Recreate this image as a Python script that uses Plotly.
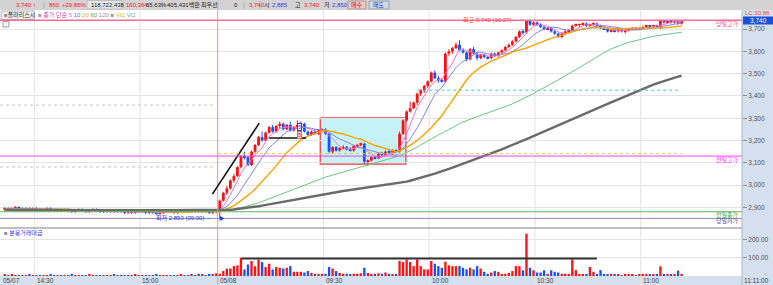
import plotly.graph_objects as go
import pandas as pd

# ---------------- data ----------------
prev_times = [f"14:{m:02d}" for m in range(21, 60)] + [f"15:{m:02d}" for m in range(0, 21)] + ["15:30"]
today_times = [f"{9 + m // 60:02d}:{m % 60:02d}" for m in range(0, 132)]

# earlier closes of 05/07 (13:22-14:20), off-screen, only feed the moving averages
history_close = [2885,2890,2885,2890,2885,2880,2885,2890,2885,2890,
                 2885,2880,2885,2890,2885,2880,2885,2890,2895,2890,
                 2885,2890,2885,2880,2885,2890,2885,2880,2885,2890,
                 2885,2890,2895,2890,2885,2890,2885,2880,2885,2890,
                 2885,2890,2885,2890,2895,2890,2885,2890,2885,2890,
                 2895,2890,2885,2890,2895,2890,2885,2890,2895]

prev_open = [2890,2895,2890,2895,2900,2895,2890,2895,2890,2895,
             2890,2885,2890,2895,2890,2885,2890,2885,2890,2885,
             2880,2885,2890,2885,2880,2885,2890,2885,2880,2885,
             2880,2885,2880,2885,2880,2875,2880,2875,2880,2885,
             2880,2875,2880,2875,2870,2875,2880,2885,2880,2875,
             2880,2885,2880,2885,2880,2885,2880,2885,2880,2875,
             2880]
prev_high = [2900,2900,2900,2905,2905,2900,2900,2900,2900,2900,
             2895,2895,2900,2900,2895,2895,2895,2895,2895,2890,
             2890,2895,2895,2890,2890,2895,2895,2890,2890,2890,
             2890,2890,2890,2890,2885,2885,2885,2885,2890,2890,
             2885,2885,2885,2880,2880,2885,2890,2890,2885,2885,
             2890,2890,2890,2890,2890,2890,2890,2890,2885,2885,
             2885]
prev_low = [2885,2885,2885,2890,2890,2885,2885,2885,2885,2885,
            2880,2880,2885,2885,2880,2880,2880,2880,2880,2875,
            2875,2880,2880,2875,2875,2880,2880,2875,2875,2875,
            2875,2875,2875,2875,2870,2870,2870,2870,2875,2875,
            2870,2870,2870,2865,2865,2870,2875,2875,2870,2870,
            2875,2875,2875,2875,2875,2875,2875,2875,2870,2870,
            2875]
prev_close = [2895,2890,2895,2900,2895,2890,2895,2890,2895,2890,
              2885,2890,2895,2890,2885,2890,2885,2890,2885,2880,
              2885,2890,2885,2880,2885,2890,2885,2880,2885,2880,
              2885,2880,2885,2880,2875,2880,2875,2880,2885,2880,
              2875,2880,2875,2870,2875,2880,2885,2880,2875,2880,
              2885,2880,2885,2880,2885,2880,2885,2880,2875,2880,
              2880]
prev_value = [6,4,8,3,5,4,3,6,4,3, 5,3,4,6,3,4,5,3,4,6,
              3,4,5,3,6,4,3,5,4,3, 4,6,3,4,5,3,4,8,3,4,
              5,3,4,6,3,5,4,3,4,5, 8,4,5,6,4,12,6,5,8,10, 15]

today_open = [2885,2930,2965,2985,3020,3040,3080,3130,3125,3090,
              3150,3180,3215,3200,3235,3260,3240,3265,3275,3250,
              3270,3245,3260,3270,3275,3240,3225,3240,3230,3245,
              3250,3230,3150,3170,3155,3165,3170,3160,3155,3175,
              3180,3185,3105,3110,3125,3120,3140,3135,3150,3145,
              3155,3150,3230,3290,3330,3345,3370,3410,3425,3445,
              3465,3505,3480,3470,3465,3590,3600,3615,3630,3605,
              3595,3565,3610,3590,3570,3585,3575,3570,3590,3580,
              3595,3605,3620,3630,3645,3665,3690,3685,3740,3720,
              3730,3720,3710,3700,3705,3690,3680,3665,3680,3690,
              3695,3715,3720,3720,3725,3715,3720,3725,3715,3705,
              3700,3690,3695,3690,3700,3690,3695,3700,3705,3700,
              3705,3710,3715,3710,3715,3710,3740,3730,3735,3730,
              3740,3725]
today_high = [2935,2970,2995,3025,3050,3085,3135,3150,3130,3155,
              3185,3220,3240,3240,3265,3270,3270,3285,3280,3275,
              3285,3265,3290,3285,3280,3245,3245,3250,3250,3255,
              3255,3235,3175,3175,3170,3180,3175,3170,3180,3185,
              3190,3190,3115,3130,3130,3145,3150,3155,3160,3160,
              3160,3240,3295,3335,3375,3375,3415,3430,3450,3470,
              3510,3515,3490,3480,3595,3610,3620,3640,3650,3615,
              3600,3615,3620,3595,3590,3590,3580,3595,3595,3600,
              3610,3625,3635,3650,3670,3695,3700,3740,3740,3735,
              3735,3725,3715,3710,3710,3695,3685,3685,3695,3700,
              3720,3725,3725,3730,3730,3725,3730,3730,3720,3710,
              3705,3700,3700,3705,3705,3700,3705,3710,3710,3710,
              3715,3720,3720,3720,3720,3740,3740,3740,3740,3740,
              3740,3740]
today_low = [2850,2925,2955,2980,3010,3035,3075,3115,3085,3085,
             3145,3175,3195,3195,3230,3235,3235,3255,3245,3245,
             3240,3240,3255,3250,3235,3220,3220,3225,3225,3240,
             3225,3145,3140,3150,3150,3160,3155,3150,3150,3170,
             3175,3095,3085,3105,3115,3115,3130,3130,3140,3135,
             3145,3145,3225,3285,3325,3340,3360,3400,3415,3435,
             3460,3475,3460,3460,3460,3580,3590,3610,3600,3590,
             3555,3560,3585,3560,3565,3570,3565,3565,3575,3575,
             3590,3600,3615,3625,3640,3660,3675,3680,3715,3715,
             3715,3705,3695,3695,3685,3675,3660,3660,3675,3685,
             3690,3710,3710,3715,3710,3710,3715,3710,3700,3695,
             3685,3685,3685,3685,3685,3680,3690,3695,3695,3695,
             3700,3705,3705,3705,3705,3700,3725,3725,3725,3725,
             3720,3720]
today_close = [2930,2965,2985,3020,3040,3080,3130,3125,3090,3150,
               3180,3215,3200,3235,3260,3240,3265,3275,3250,3270,
               3245,3260,3270,3275,3240,3225,3240,3230,3245,3250,
               3230,3150,3170,3155,3165,3170,3160,3155,3175,3180,
               3185,3105,3110,3125,3120,3140,3135,3150,3145,3155,
               3150,3230,3290,3330,3345,3370,3410,3425,3445,3465,
               3505,3480,3470,3465,3590,3600,3615,3630,3605,3595,
               3565,3610,3590,3570,3585,3575,3570,3590,3580,3595,
               3605,3620,3630,3645,3665,3690,3685,3740,3720,3730,
               3720,3710,3700,3705,3690,3680,3665,3680,3690,3695,
               3715,3720,3720,3725,3715,3720,3725,3715,3705,3700,
               3690,3695,3690,3700,3690,3695,3700,3705,3700,3705,
               3710,3715,3710,3715,3710,3740,3730,3735,3730,3740,
               3725,3740]
today_value = [12,27,40,41,54,58,100,36,63,82,
               53,90,76,49,67,36,49,45,41,45,
               54,23,23,23,19,27,17,12,12,12,
               12,49,41,27,17,12,12,8,12,12,
               15,45,17,12,12,15,12,19,12,8,
               12,82,76,90,76,54,90,54,36,36,
               82,67,54,45,78,58,54,54,54,45,
               36,45,36,54,41,23,12,19,27,23,
               12,12,17,27,54,54,31,231,45,31,
               19,19,31,12,31,23,19,12,12,8,
               91,32,8,8,8,49,23,12,32,7,
               8,12,6,8,5,7,6,8,5,6,
               7,6,8,6,8,53,8,6,6,6,
               29,12]

ma_periods = [5, 10, 20, 60, 120]
ma_colors = ["#ff6ec7", "#8484ee", "#f5a300", "#6cc483", "#6a6a6a"]
ma_widths = [1, 1, 1.4, 1, 2.4]

levels = {"당일고가": 3740, "전일고가": 3130, "전일종가": 2880, "당일저가": 2850}
level_colors = {"당일고가": "#ff6f90", "전일고가": "#ff40ff", "전일종가": "#5cb85c", "당일저가": "#8c8cba"}
level_text_colors = {"당일고가": "#ff5080", "전일고가": "#ff30ff", "전일종가": "#40a040", "당일저가": "#505090"}
vi1_price, vi2_price = 3141, 3426
prev_vi = [3359, 3081]

header_items = [
    (14, "3,740", "#ff2020"), (31, "<b>↑</b>", "#ff2020"), (47, "860", "#ff2020"),
    (60, "+29.86%", "#ff2020"), (89, "118,722,438", "#202020"), (124, "160,364", "#ff2020"),
    (144, "65.63%", "#202020"), (165, "405,431백만", "#202020"), (199, "최우선", "#202020"),
    (232, "0", "#202020"), (247, "3,740", "#ff2020"), (262, "시", "#202020"),
    (270, "2,885", "#2040ff"), (293, "고", "#202020"), (302, "3,740", "#ff2020"),
    (322, "저", "#202020"), (330, "2,850", "#2040ff"),
]
xtick_labels = ["14:30", "15:00", "09:00", "09:30", "10:00", "10:30", "11:00"]

# ---------------- derived ----------------
times = prev_times + today_times
O = prev_open + today_open
H = prev_high + today_high
L = prev_low + today_low
C = prev_close + today_close
V = prev_value + today_value
n = len(times)
idx = list(range(n))
day_start = len(prev_times)

W, Hh = 773, 285
def py(p):
    return 1 - p / Hh
def px(p):
    return p / W

XR = [-1.35, 209.14]
FONT = "Liberation Sans, Noto Sans CJK KR"

up = [c >= o for o, c in zip(O, C)]
RED, BLUE = "#ff1010", "#1450ff"
cols = [RED if u else BLUE for u in up]

fig = go.Figure()

for flag, col in [(True, RED), (False, BLUE)]:
    xs, ys = [], []
    for i in idx:
        if up[i] == flag:
            xs += [i, i, None]
            ys += [L[i], H[i], None]
    fig.add_trace(go.Scatter(x=xs, y=ys, mode="lines", line=dict(color=col, width=1),
                             hoverinfo="skip", showlegend=False))
fig.add_trace(go.Bar(x=idx, base=[min(o, c) for o, c in zip(O, C)],
                     y=[max(abs(c - o), 3) for o, c in zip(O, C)],
                     marker=dict(color=cols, line=dict(width=0)), width=0.8,
                     showlegend=False, hoverinfo="skip"))

nh = len(history_close)
cs = pd.Series(history_close + C, dtype=float)
for p, col, w in zip(ma_periods, ma_colors, ma_widths):
    ma = cs.rolling(p, min_periods=1).mean().iloc[nh:].tolist()
    fig.add_trace(go.Scatter(x=idx, y=ma, mode="lines",
                             line=dict(color=col, width=w), hoverinfo="skip", showlegend=False))

fig.add_trace(go.Bar(x=idx, y=V, yaxis="y2", marker=dict(color=cols, line=dict(width=0)),
                     width=0.66, showlegend=False, hoverinfo="skip"))

shapes = []
shapes.append(dict(type="rect", xref="paper", yref="paper", x0=0, x1=1, y0=py(10), y1=1,
                   fillcolor="#d3d3d3", line=dict(width=0), layer="below"))
shapes.append(dict(type="rect", xref="paper", yref="paper", x0=px(742), x1=1, y0=0, y1=py(10),
                   fillcolor="#d5e0ee", line=dict(width=0), layer="below"))
shapes.append(dict(type="rect", xref="paper", yref="paper", x0=0, x1=1, y0=0, y1=py(276),
                   fillcolor="#d5e0ee", line=dict(width=0), layer="below"))
shapes.append(dict(type="line", xref="paper", yref="paper", x0=px(742), x1=px(742), y0=0, y1=py(10),
                   line=dict(color="#a9b7c9", width=1)))
shapes.append(dict(type="rect", xref="paper", yref="paper", x0=px(87), x1=px(122), y0=py(9), y1=py(0.5),
                   fillcolor="#e6e6e6", line=dict(color="#bdbdbd", width=1), layer="below"))
for xv in [44, 162, 197, 218, 244, 260]:
    shapes.append(dict(type="line", xref="paper", yref="paper", x0=px(xv), x1=px(xv), y0=py(9), y1=py(1),
                       line=dict(color="#b5b5b5", width=1)))
shapes.append(dict(type="rect", xref="paper", yref="paper", x0=px(348), x1=px(366), y0=py(9), y1=py(1),
                   fillcolor="#f2c4c4", line=dict(color="#a0a0a0", width=1)))
shapes.append(dict(type="rect", xref="paper", yref="paper", x0=px(369), x1=px(389), y0=py(9), y1=py(1),
                   fillcolor="#c9d9f1", line=dict(color="#a0a0a0", width=1)))
shapes.append(dict(type="rect", xref="paper", yref="paper", x0=px(1), x1=px(34), y0=py(19.5), y1=py(11),
                   fillcolor="#ececec", line=dict(color="#b8b8b8", width=1)))
shapes.append(dict(type="rect", xref="paper", yref="paper", x0=px(3), x1=px(9), y0=py(27), y1=py(21.5),
                   fillcolor="#f4f4f4", line=dict(color="#a0a0a0", width=1)))

for t in xtick_labels:
    i = times.index(t)
    if t == "09:00":
        continue
    shapes.append(dict(type="line", xref="x", yref="paper", x0=i - 0.6, x1=i - 0.6, y0=0, y1=py(10),
                       line=dict(color="#e2e2e2", width=1), layer="below"))
shapes.append(dict(type="line", xref="x", yref="paper", x0=day_start - 0.6, x1=day_start - 0.6,
                   y0=0, y1=py(10), line=dict(color="#ff8c8c", width=1)))
shapes.append(dict(type="line", xref="paper", yref="paper", x0=0, x1=px(742), y0=py(228), y1=py(228),
                   line=dict(color="#a8a8a8", width=1.5)))

shapes.append(dict(type="rect", xref="x", yref="y", x0=89.5, x1=113.8, y0=3094, y1=3301,
                   fillcolor="#c6f3f7", line=dict(color="#f04040", width=1.3), layer="below"))
shapes.append(dict(type="line", xref="x", yref="y", x0=58.9, y0=2959, x1=72.2, y1=3278,
                   line=dict(color="#111111", width=1.6)))
shapes.append(dict(type="line", xref="x", yref="y", x0=75, y0=3211, x1=85.5, y1=3211,
                   line=dict(color="#111111", width=1.6)))
shapes.append(dict(type="line", xref="x", yref="y2", x0=67.2, y0=96, x1=168, y1=96,
                   line=dict(color="#333333", width=2)))

for name, val in levels.items():
    shapes.append(dict(type="line", xref="paper", yref="y", x0=0, x1=px(742), y0=val, y1=val,
                       line=dict(color=level_colors[name], width=1.3 if name == "당일고가" else 1)))
last = n - 1
shapes.append(dict(type="line", xref="x", yref="y", x0=day_start - 0.5, x1=last, y0=vi1_price, y1=vi1_price,
                   line=dict(color="#c5d54a", width=1, dash="dot")))
shapes.append(dict(type="line", xref="x", yref="y", x0=today_times.index("09:56") + day_start, x1=last,
                   y0=vi2_price, y1=vi2_price, line=dict(color="#3fcad3", width=1, dash="dot")))
for pv in prev_vi:
    shapes.append(dict(type="line", xref="x", yref="y", x0=XR[0], x1=day_start - 1, y0=pv, y1=pv,
                       line=dict(color="#c4c4c4", width=1, dash="dot")))

shapes.append(dict(type="rect", xref="paper", yref="paper", x0=px(743), x1=1, y0=py(24.5), y1=py(16.5),
                   fillcolor="#1b4fd6", line=dict(width=0)))

ann = []
def txt(x, y, s, color="#202020", size=6.5, xanchor="left", yanchor="middle", xref="paper", yref="paper", **kw):
    ann.append(dict(x=x, y=y, text=s, xref=xref, yref=yref, showarrow=False, xanchor=xanchor,
                    yanchor=yanchor, font=dict(family=FONT, size=size, color=color), **kw))

for xv, s, col in header_items:
    txt(px(xv), py(5), s, col, size=6)
txt(px(357), py(5), "매수", "#c02020", size=6, xanchor="center")
txt(px(379), py(5), "매도", "#2040c0", size=6, xanchor="center")

txt(px(1.5), py(15.5), "<span style='color:#909090'>■</span>폴라리스시", "#303030", size=6)
legend_html = ("<span style='color:#a0a0a0'>■</span> <span style='color:#c040c0'>종가 단순</span> "
               "<span style='color:#ff5ec0'>5</span> <span style='color:#6a6aff'>10</span> "
               "<span style='color:#e8b000'>20</span> <span style='color:#40b060'>60</span> "
               "<span style='color:#909090'>120</span> <span style='color:#a0a0a0'>■</span> "
               "<span style='color:#b0c020'>VI1</span> <span style='color:#30c0d0'>VI2</span>")
txt(px(36), py(15.5), legend_html, size=6)
txt(px(2), py(232.5), "<span style='color:#909090'>■</span> 분봉거래대금", "#3a3aee", size=6)

level_label_y = {"당일고가": 23.5, "전일고가": 160, "전일종가": 214.5, "당일저가": 220.5}
for name, val in levels.items():
    txt(px(741), py(level_label_y[name]), name, level_text_colors[name], size=6, xanchor="right")

txt(146.5, 3740, "최고 3,740 (10:27) →", "#ff4040", size=6, xanchor="right", xref="x", yref="y")
txt(59.3, 2850, "최저 2,850 (09:00) →", "#3030e0", size=6, xanchor="right", xref="x", yref="y")
txt(60.3, 2850, "▶", "#2040e0", size=5.5, xanchor="left", xref="x", yref="y")

ann.append(dict(x=83.5, y=3262, xref="x", yref="y", text="5", showarrow=False,
                font=dict(family=FONT, size=5.5, color="#2040e0"), bgcolor="#ffffff",
                bordercolor="#2040e0", borderwidth=1, borderpad=0))
ann.append(dict(x=83.5, y=3224, xref="x", yref="y", text="5", showarrow=False,
                font=dict(family=FONT, size=5.5, color="#ff2020"), bgcolor="#ffd0d0",
                bordercolor="#ff6060", borderwidth=1, borderpad=0))

txt(px(757.5), py(12.8), "LC:30.88", "#ff4040", size=6, xanchor="center")
txt(px(758), py(20.5), "3,740", "#ffffff", size=6.5, xanchor="center")

txt(px(1), py(280.5), "05/07", "#404040", size=6.5)
for t in xtick_labels:
    i = times.index(t)
    lab = "05/08" if t == "09:00" else t
    txt(i - 0.5, py(280.5), lab, "#404040", size=6.5, xref="x")
txt(px(771), py(280.5), "11:11:00", "#404040", size=6.5, xanchor="right")

fig.update_layout(
    width=W, height=Hh, margin=dict(l=0, r=0, t=0, b=0),
    paper_bgcolor="#ffffff", plot_bgcolor="#ffffff",
    barmode="overlay", showlegend=False, shapes=shapes, annotations=ann,
    xaxis=dict(domain=[0, px(742)], range=XR, showgrid=False, zeroline=False,
               showticklabels=False, ticks="", showline=False, fixedrange=True),
    yaxis=dict(domain=[py(228), py(10)], range=[2807, 3786], side="right",
               tickvals=[2900, 3000, 3100, 3200, 3300, 3400, 3500, 3600, 3700],
               ticktext=["2,900", "3,000", "3,100", "3,200", "3,300", "3,400", "3,500", "3,600", "3,700"],
               tickfont=dict(family=FONT, size=6.5, color="#555555"), ticks="outside", ticklen=4,
               tickcolor="#8090a8", showgrid=True, gridcolor="#e4e4e4", zeroline=False, showline=False),
    yaxis2=dict(domain=[py(276), py(228)], range=[0, 262], side="right", anchor="x",
                tickvals=[100, 200], ticktext=["100.00", "200.00"],
                tickfont=dict(family=FONT, size=6.5, color="#555555"), ticks="outside", ticklen=4,
                tickcolor="#8090a8", showgrid=True, gridcolor="#e4e4e4", zeroline=False, showline=False),
)

fig.write_html("out.html")
